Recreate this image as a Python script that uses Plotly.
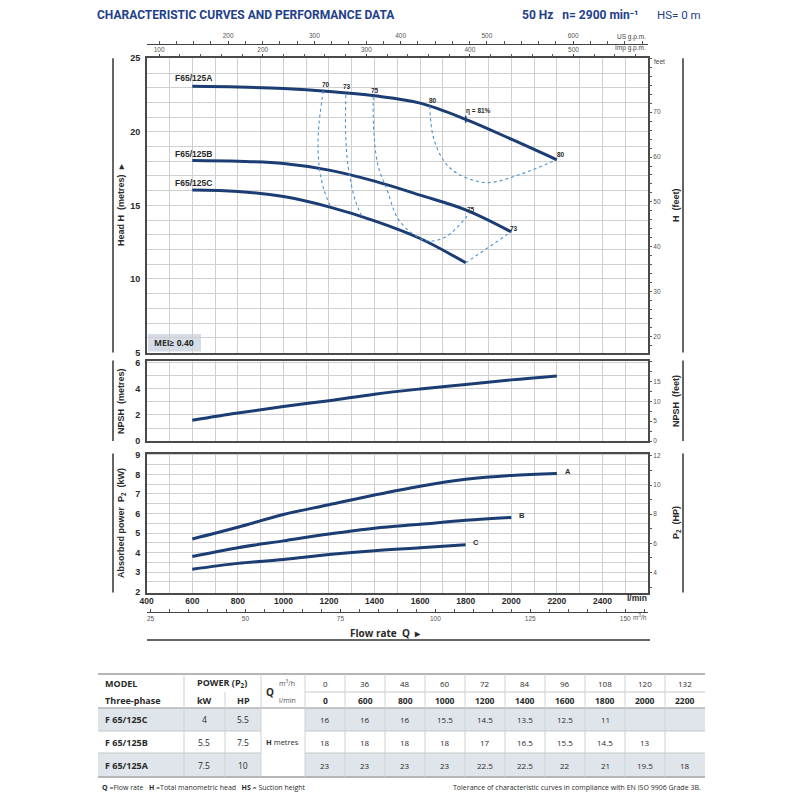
import plotly.graph_objects as go

# ---- curve data (flow in l/min) ----
flow_lmin = [600, 800, 1000, 1200, 1400, 1600, 1800, 2000, 2200]

head_a = [23.1, 23.05, 22.95, 22.75, 22.45, 21.95, 20.85, 19.5, 18.1]
head_b = [18.05, 18.0, 17.85, 17.4, 16.65, 15.7, 14.7, 13.2]
head_c = [16.05, 15.95, 15.6, 14.9, 13.95, 12.75, 11.1]

npsh_m = [1.6, 2.15, 2.65, 3.1, 3.6, 4.0, 4.35, 4.7, 5.0]

power_a = [4.7, 5.3, 5.95, 6.45, 6.95, 7.4, 7.75, 7.95, 8.05]
power_b = [3.8, 4.25, 4.6, 4.95, 5.25, 5.45, 5.65, 5.8]
power_c = [3.15, 3.45, 3.65, 3.9, 4.1, 4.25, 4.4]

# iso-efficiency lines (flow l/min, head m)
eff70_q = [1175, 1153, 1157, 1178, 1204]
eff70_h = [22.8, 19.9, 17.65, 16.05, 15.0]
eff73_q = [1274, 1273, 1284, 1314, 1343]
eff73_h = [22.5, 19.9, 17.65, 15.4, 14.3]
eff73b_q = [1800, 2000]
eff73b_h = [11.1, 13.2]
eff75_q = [1394, 1397, 1416, 1455, 1511, 1628, 1716, 1818]
eff75_h = [22.4, 19.9, 17.65, 16.05, 13.9, 12.6, 12.9, 14.5]
eff80_q = [1642, 1657, 1701, 1760, 1891, 2037, 2198]
eff80_h = [21.75, 19.7, 18.1, 17.2, 16.55, 17.1, 18.1]

eff_labels = ['70', '73', '75', '80', 'η = 81%', '80', '75', '73']
eff_label_q = [1186, 1279, 1402, 1656, 1855, 2219, 1822, 2011]
eff_label_h = [23.25, 23.05, 22.8, 22.1, 21.45, 18.45, 14.75, 13.4]

curve_names = ['F65/125A', 'F65/125B', 'F65/125C']

# ---- axis ticks ----
lmin_grid = list(range(400, 2601, 100))
lmin_ticks = list(range(400, 2401, 200))
head_grid = list(range(5, 26))
head_ticks = [5, 10, 15, 20, 25]
npsh_grid = list(range(0, 7))
npsh_ticks = [0, 2, 4, 6]
kw_grid = [2 + 0.5 * i for i in range(15)]
kw_ticks = list(range(2, 10))
feet_minor = list(range(18, 83, 2))
feet_ticks = [20, 30, 40, 50, 60, 70]
npsh_ft_minor = [2.5 * i for i in range(9)]
npsh_ft_ticks = [0, 5, 10, 15]
hp_minor = list(range(3, 13))
hp_ticks = [4, 6, 8, 10, 12]
us_minor = list(range(120, 687, 20))
us_ticks = [200, 300, 400, 500, 600]
imp_minor = list(range(100, 572, 20))
imp_ticks = [100, 200, 300, 400, 500]
m3h_minor = list(range(25, 156, 5))
m3h_ticks = [25, 50, 75, 100, 125, 150]

# ---- table data ----
tbl_models = ['F 65/125C', 'F 65/125B', 'F 65/125A']
tbl_kw = ['4', '5.5', '7.5']
tbl_hp = ['5.5', '7.5', '10']
tbl_q_m3h = ['0', '36', '48', '60', '72', '84', '96', '108', '120', '132']
tbl_q_lmin = ['0', '600', '800', '1000', '1200', '1400', '1600', '1800', '2000', '2200']
tbl_head = [
    ['16', '16', '16', '15.5', '14.5', '13.5', '12.5', '11', '', ''],
    ['18', '18', '18', '18', '17', '16.5', '15.5', '14.5', '13', ''],
    ['23', '23', '23', '23', '22.5', '22.5', '22', '21', '19.5', '18'],
]

NAVY = '#1b3d73'
EFF = '#4a94d0'
GRID = '#cfcfcf'
BORDER = '#4a4a4a'
TXT = '#2a2a2a'
ROWBG = '#dfe5eb'
FONT = 'Liberation Sans'
TFONT = 'Open Sans'

LMIN_PER_M3H = 1000 / 60
L_PER_USG = 3.78541
L_PER_IMPG = 4.54609
FT_PER_M = 3.28084
HP_PER_KW = 1.34102

# page body adds an 8px offset; positions below are in reference pixels
OFF = 8


def px(x):
    return (x - OFF) / 800


def py(y):
    return 1 - (y - OFF) / 800


X_DOM = [px(146.7), px(648)]
MAIN_DOM = [py(352.5), py(58.3)]
NPSH_DOM = [py(441), py(360.5)]
POW_DOM = [py(592.5), py(453.5)]
H_RANGE = [5, 25]
NPSH_RANGE = [0, 6.19]
KW_RANGE = [1.96, 9.07]
Q_RANGE = [400, 2600]

fig = go.Figure()

# head curves
for q, h in [(flow_lmin, head_a), (flow_lmin[:8], head_b), (flow_lmin[:7], head_c)]:
    fig.add_trace(go.Scatter(x=q[:len(h)], y=h, mode='lines',
                             line=dict(color=NAVY, width=3, shape='spline'),
                             xaxis='x', yaxis='y', hoverinfo='skip'))

# iso-efficiency lines
for q, h in [(eff70_q, eff70_h), (eff73_q, eff73_h), (eff73b_q, eff73b_h),
             (eff75_q, eff75_h), (eff80_q, eff80_h)]:
    fig.add_trace(go.Scatter(x=q, y=h, mode='lines',
                             line=dict(color=EFF, width=1.1, dash='dot', shape='spline'),
                             xaxis='x', yaxis='y', hoverinfo='skip'))

# best efficiency point tick on curve A
fig.add_trace(go.Scatter(x=[flow_lmin[6]], y=[head_a[6]], mode='markers',
                         marker=dict(symbol='line-ns', size=5, color=NAVY,
                                     line=dict(color=NAVY, width=1.5)),
                         xaxis='x', yaxis='y', hoverinfo='skip'))

# NPSH
fig.add_trace(go.Scatter(x=flow_lmin, y=npsh_m, mode='lines',
                         line=dict(color=NAVY, width=3, shape='spline'),
                         xaxis='x2', yaxis='y2', hoverinfo='skip'))

# power curves
for p in [power_a, power_b, power_c]:
    fig.add_trace(go.Scatter(x=flow_lmin[:len(p)], y=p, mode='lines',
                             line=dict(color=NAVY, width=3, shape='spline'),
                             xaxis='x3', yaxis='y3', hoverinfo='skip'))

# empty traces so every secondary axis gets drawn
for xa, ya in [('x', 'y4'), ('x2', 'y5'), ('x3', 'y6'), ('x4', 'y'), ('x5', 'y'), ('x6', 'y3')]:
    fig.add_trace(go.Scatter(x=[], y=[], xaxis=xa, yaxis=ya, hoverinfo='skip'))


def grid_minor(vals):
    return dict(tickmode='array', tickvals=vals, showgrid=True, gridcolor=GRID,
                gridwidth=1.2, ticks='')


def base_x(anchor, labels):
    return dict(domain=X_DOM, range=Q_RANGE, anchor=anchor, tickmode='array',
                tickvals=labels if labels else lmin_grid, showticklabels=bool(labels),
                minor=grid_minor(lmin_grid),
                ticks='', showgrid=True, gridcolor=GRID, gridwidth=1.2,
                showline=True, mirror=True, linecolor=BORDER, linewidth=1.5,
                zeroline=False, fixedrange=True, automargin=False, ticklabelstandoff=0,
                tickfont=dict(family=FONT, size=8.5, color=TXT, weight='bold'))


def base_y(dom, rng, ticks, grid, anchor):
    return dict(domain=dom, range=rng, anchor=anchor, tickmode='array',
                tickvals=ticks, minor=grid_minor(grid), ticks='', showgrid=True,
                gridcolor=GRID, gridwidth=1.2, showline=True, mirror=True,
                linecolor=BORDER, linewidth=1.5, zeroline=False, fixedrange=True,
                ticklabelstandoff=3, automargin=False,
                tickfont=dict(family=FONT, size=9, color=TXT, weight='bold'))


def tick_minor(vals, ticks='outside'):
    return dict(tickmode='array', tickvals=vals, ticks=ticks, ticklen=3,
                tickcolor='#555', showgrid=False)


def right_y(over, rng, ticks, minor):
    return dict(overlaying=over, side='right', anchor='x' if over == 'y' else 'x' + over[1:],
                range=rng, tickmode='array', tickvals=ticks, minor=tick_minor(minor),
                ticks='outside', ticklen=3, tickcolor='#555', showgrid=False,
                showline=False, zeroline=False, fixedrange=True, automargin=False,
                ticklabelstandoff=0,
                tickfont=dict(family=FONT, size=6.5, color='#555'))


def extra_x(over, side, rng, ticks, minor, anchor, position=None, line=False, tdir='outside'):
    d = dict(overlaying=over, side=side, range=rng, tickmode='array', tickvals=ticks,
             minor=tick_minor(minor, tdir), ticks=tdir, ticklen=3, tickcolor='#444',
             showgrid=False, showline=line, linecolor='#444', linewidth=1, zeroline=False,
             fixedrange=True, anchor=anchor, automargin=False, ticklabelstandoff=0,
             tickfont=dict(family=FONT, size=6.5, color='#555'))
    if position is not None:
        d['position'] = position
    return d


shapes = []
annotations = []


def text(x, y, s, size=8, color=TXT, xanchor='center', bold=False, angle=0,
         family=FONT, xref='paper', yref='paper'):
    annotations.append(dict(x=x, y=y, xref=xref, yref=yref, text=s, showarrow=False,
                            xanchor=xanchor, yanchor='middle', textangle=angle,
                            font=dict(family=family, size=size, color=color,
                                      weight='bold' if bold else 'normal')))


def line(x0, y0, x1, y1, color='#555', width=1.5):
    shapes.append(dict(type='line', xref='paper', yref='paper', x0=px(x0), x1=px(x1),
                       y0=py(y0), y1=py(y1), line=dict(color=color, width=width)))


def rect(x0, y0, x1, y1, color):
    shapes.append(dict(type='rect', xref='paper', yref='paper', x0=px(x0), x1=px(x1),
                       y0=py(y0), y1=py(y1), line=dict(width=0), fillcolor=color, layer='below'))


# header
text(px(95), py(15), 'CHARACTERISTIC CURVES AND PERFORMANCE DATA', size=12, color='#23408a',
     xanchor='left', bold=True, family='Roboto')
text(px(520), py(15), '50 Hz   n= 2900 min⁻¹', size=12, color='#23408a',
     xanchor='left', bold=True, family='Roboto')
text(px(655), py(15), 'HS= 0 m', size=11.5, color='#23408a', xanchor='left', family='Roboto')

# unit labels on secondary axes
text(px(648), py(37), 'US g.p.m.', size=6.5, color='#444', xanchor='right')
text(px(648), py(48), 'Imp g.p.m.', size=6.5, color='#444', xanchor='right')
text(px(652), py(61), 'feet', size=6.5, color='#444', xanchor='left')
text(px(649), py(598), 'l/min', size=8.5, color=TXT, xanchor='right', bold=True)
text(px(649), py(617), 'm<sup>3</sup>/h', size=6.5, color='#555', xanchor='right')

# axis titles
text(px(121), py(205), 'Head H  (metres)  ▸', size=9, bold=True, angle=-90)
text(px(676), py(205), 'H  (feet)', size=9, bold=True, angle=-90)
text(px(121), py(401), 'NPSH  (metres)', size=9, bold=True, angle=-90)
text(px(676), py(401), 'NPSH  (feet)', size=9, bold=True, angle=-90)
text(px(121), py(523), 'Absorbed power  P<sub>2</sub>  (kW)', size=9, bold=True, angle=-90)
text(px(676), py(523), 'P<sub>2</sub>  (HP)', size=9, bold=True, angle=-90)
text(px(385), py(633), 'Flow rate  Q  ▸', size=10, bold=True, family=TFONT)

# side rules
for y0, y1 in [(58.3, 352.5), (360.5, 441), (453.5, 592.5)]:
    line(113, y0, 113, y1, '#555', 1.8)
    line(683, y0, 683, y1, '#555', 1.8)
line(147, 640, 650, 640, '#666', 2)

# curve names
for name, h in zip(curve_names, [23.65, 18.5, 16.5]):
    text(605, h, name, size=8.5, bold=True, xref='x', yref='y')
for s, q, h in zip(eff_labels, eff_label_q, eff_label_h):
    text(q, h, s, size=6.5, bold=True, xref='x', yref='y')
for s, p in zip(['A', 'B', 'C'], [power_a, power_b, power_c]):
    text(flow_lmin[len(p) - 1] + 25, p[-1] + 0.1, s, size=7.5, bold=True,
         xanchor='left', xref='x3', yref='y3')

# MEI box
rect(148, 334, 201, 351.5, '#d5dce5')
text(px(152), py(343), 'MEI≥ 0.40', size=8.5, bold=True, xanchor='left', family=TFONT)

# ---- table ----
T_L, T_R = 98, 705
col_x = [98, 184, 225, 261, 305] + [345 + 40 * i for i in range(10)]
row_tops = [708, 731, 753]
row_bots = [731, 753, 777]
row_mid = [719.5, 742, 765]
for i in (0, 2):
    rect(T_L, row_tops[i], col_x[3], row_bots[i], ROWBG)
    rect(col_x[4], row_tops[i], T_R, row_bots[i], ROWBG)
line(T_L, 674, T_R, 674, '#b5b5b5', 2)
line(col_x[4], 692, T_R, 692, '#c8c8c8', 1)
line(T_L, 708, T_R, 708, '#b5b5b5', 1.5)
line(T_L, 731, col_x[3], 731, '#c8c8c8', 1)
line(col_x[4], 731, T_R, 731, '#c8c8c8', 1)
line(T_L, 753, col_x[3], 753, '#c8c8c8', 1)
line(col_x[4], 753, T_R, 753, '#c8c8c8', 1)
line(T_L, 777, T_R, 777, '#b5b5b5', 2)
for i, cx in enumerate(col_x[1:-1], start=1):
    top = 692 if i == 2 else 674
    line(cx, top, cx, 777, '#cdd2d8', 1)

text(px(103), py(683), 'MODEL', size=9, bold=True, xanchor='left', family=TFONT)
text(px(103), py(700), 'Three-phase', size=9, bold=True, xanchor='left', family=TFONT)
text(px(222), py(683), 'POWER (P<sub>2</sub>)', size=9, bold=True, family=TFONT)
text(px(204), py(700), 'kW', size=9, bold=True, family=TFONT)
text(px(243), py(700), 'HP', size=9, bold=True, family=TFONT)
text(px(264), py(692), 'Q', size=10, bold=True, xanchor='left', family=TFONT)
text(px(277), py(683), 'm<sup>3</sup>/h', size=7, color='#555', xanchor='left', family=TFONT)
text(px(277), py(700), 'l/min', size=7, color='#555', xanchor='left', family=TFONT)
text(px(264), py(742), '<b>H</b> metres', size=7.5, xanchor='left', family=TFONT)

for j in range(10):
    cx = (col_x[4 + j] + col_x[5 + j]) / 2
    text(px(cx), py(683), tbl_q_m3h[j], size=8, family=TFONT)
    text(px(cx), py(700), tbl_q_lmin[j], size=8.5, bold=True, family=TFONT)
    for i in range(3):
        if tbl_head[i][j]:
            text(px(cx), py(row_mid[i]), tbl_head[i][j], size=8, family=TFONT)

for i in range(3):
    text(px(103), py(row_mid[i]), tbl_models[i], size=9, bold=True, xanchor='left', family=TFONT)
    text(px(204), py(row_mid[i]), tbl_kw[i], size=8.5, family=TFONT)
    text(px(243), py(row_mid[i]), tbl_hp[i], size=8.5, family=TFONT)

text(px(100), py(787), '<b>Q</b> =Flow rate   <b>H</b> =Total manometric head   <b>HS</b> = Suction height',
     size=7, xanchor='left', family=TFONT)
text(px(703), py(787), 'Tolerance of characteristic curves in compliance with EN ISO 9906 Grade 3B.',
     size=7, xanchor='right', family=TFONT)

fig.update_layout(
    width=800, height=800, autosize=False,
    margin=dict(l=0, r=0, t=0, b=0),
    paper_bgcolor='white', plot_bgcolor='white',
    showlegend=False,
    xaxis=base_x('y', None),
    xaxis2=base_x('y2', None),
    xaxis3=base_x('y3', lmin_ticks),
    yaxis=base_y(MAIN_DOM, H_RANGE, head_ticks, head_grid, 'x'),
    yaxis2=base_y(NPSH_DOM, NPSH_RANGE, npsh_ticks, npsh_grid, 'x2'),
    yaxis3=base_y(POW_DOM, KW_RANGE, kw_ticks, kw_grid, 'x3'),
    yaxis4=right_y('y', [v * FT_PER_M for v in H_RANGE], feet_ticks, feet_minor),
    yaxis5=right_y('y2', [v * FT_PER_M for v in NPSH_RANGE], npsh_ft_ticks, npsh_ft_minor),
    yaxis6=right_y('y3', [v * HP_PER_KW for v in KW_RANGE], hp_ticks, hp_minor),
    xaxis4=extra_x('x', 'top', [v / L_PER_IMPG for v in Q_RANGE], imp_ticks, imp_minor, 'y'),
    xaxis5=extra_x('x', 'top', [v / L_PER_USG for v in Q_RANGE], us_ticks, us_minor,
                   'free', position=py(44), line=True),
    xaxis6=extra_x('x3', 'bottom', [v / LMIN_PER_M3H for v in Q_RANGE], m3h_ticks, m3h_minor,
                   'free', position=py(611.7), line=True, tdir='inside'),
    shapes=shapes,
    annotations=annotations,
)

fig.write_html("out.html")
